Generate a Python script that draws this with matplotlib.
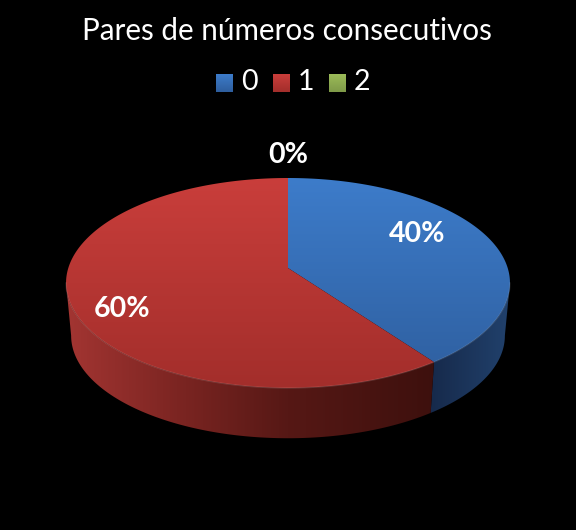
import numpy as np
import matplotlib
matplotlib.use('Agg')
import matplotlib.pyplot as plt
from matplotlib.colors import LinearSegmentedColormap
from matplotlib.patches import Polygon

title = 'Pares de números consecutivos'
categories = ['0', '1', '2']
values = [40, 60, 0]

plt.rcParams['font.family'] = ['Lato', 'DejaVu Sans']

# pie geometry, in pixels
CX, CY = 288, 268
WIDTH, DEPTH, PERSP = 219.7, 102.86, 1 / 7
LOW_SCALE, LOW_CY = 0.977, 321

top_cols = [('#3d7cca', '#2e5e9e'), ('#c93e3b', '#a32e2b'), ('#9bbb59', '#7f9a48')]
side_stops = [
    [(0.0, '#16294a'), (1.0, '#21416c')],
    [(0.0, '#a33532'), (0.3, '#7c2522'), (0.6, '#561815'), (1.0, '#3d100d')],
    [(0.0, '#5f7330'), (1.0, '#4a5a25')],
]
swatch_x = [216, 273, 329]
text_x = [241, 298, 354]
label_pos = [(417, 234), (122, 309), (288, 155)]


def rim(a):
    s, c = np.sin(a), np.cos(a)
    d = 1 + PERSP * c
    return WIDTH * s / d, DEPTH * c / d


def top_xy(a):
    x, y = rim(a)
    return CX + x, CY - y


def low_xy(a):
    x, y = rim(a)
    return CX + LOW_SCALE * x, LOW_CY - LOW_SCALE * y


def fill_clipped(ax, pts, cmap, extent, vertical):
    # gradient image cut down to the polygon
    g = np.linspace(0, 1, 256)
    g = g[:, None] if vertical else g[None, :]
    im = ax.imshow(g, cmap=cmap, extent=extent, aspect='auto', zorder=2, interpolation='bilinear')
    poly = Polygon(pts, closed=True, transform=ax.transData, fc='none', ec='none')
    ax.add_patch(poly)
    im.set_clip_path(poly)


fig = plt.figure(figsize=(5.76, 5.30), dpi=100, facecolor='black')
ax = fig.add_axes([0, 0, 1, 1])
ax.set_facecolor('black')
ax.axis('off')

fracs = np.array(values) / sum(values)
edges = np.concatenate([[0], np.cumsum(fracs)]) * 2 * np.pi

# only the front of the wall shows, between the two widest points of the rim
front0 = np.arccos(-PERSP)
front1 = 2 * np.pi - front0

for i in range(len(values)):
    a0, a1 = max(edges[i], front0), min(edges[i + 1], front1)
    if a1 <= a0:
        continue
    a = np.linspace(a0, a1, 200)
    tx, ty = top_xy(a)
    lx, ly = low_xy(a)
    pts = np.column_stack([np.r_[tx, lx[::-1]], np.r_[ty, ly[::-1]]])
    cmap = LinearSegmentedColormap.from_list('side%d' % i, side_stops[i])
    xr = (66, 436) if i == 1 else (428, 510)
    fill_clipped(ax, pts, cmap, (xr[0], xr[1], 440, 170), False)

for i in range(len(values)):
    if fracs[i] == 0:
        continue
    a = np.linspace(edges[i], edges[i + 1], 200)
    tx, ty = top_xy(a)
    pts = np.column_stack([np.r_[CX, tx], np.r_[CY, ty]])
    cmap = LinearSegmentedColormap.from_list('top%d' % i, top_cols[i])
    fill_clipped(ax, pts, cmap, (60, 515, 388, 178), True)

# soft light edge along the front rim
a = np.linspace(front0, front1, 300)
tx, ty = top_xy(a)
ax.plot(tx, ty, color='white', alpha=0.12, lw=1.0, zorder=3)

# legend
for i, cat in enumerate(categories):
    x0 = swatch_x[i]
    cmap = LinearSegmentedColormap.from_list('sw%d' % i, [top_cols[i][0], top_cols[i][1]])
    ax.imshow(np.linspace(0, 1, 32)[:, None], cmap=cmap, extent=(x0, x0 + 17, 92, 74),
              aspect='auto', zorder=2)
    ax.text(text_x[i], 82, cat, color='white', fontsize=20.5, ha='left', va='center', zorder=4)

ax.text(287, 31, title, color='white', fontsize=21.3, ha='center', va='center', zorder=4)

for i in range(len(values)):
    ax.text(label_pos[i][0], label_pos[i][1], '%d%%' % values[i], color='white', fontsize=20.5,
            fontweight='bold', ha='center', va='center', zorder=4)

ax.set_xlim(0, 576)
ax.set_ylim(530, 0)
fig.savefig('out.png', dpi=100, facecolor='black')
